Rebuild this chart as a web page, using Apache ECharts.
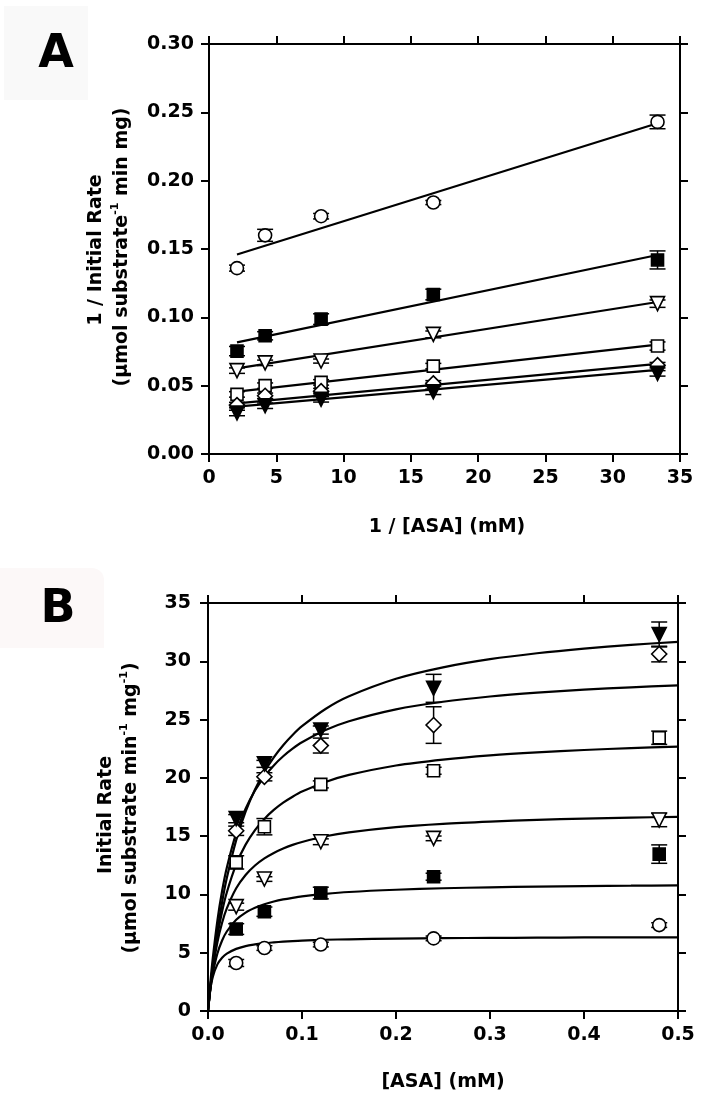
<!DOCTYPE html>
<html>
<head>
<meta charset="utf-8">
<script src="https://cdn.jsdelivr.net/npm/echarts@6/dist/echarts.min.js"></script>
<style>
html,body{margin:0;padding:0;background:#fff;}
#chart{width:702px;height:1103px;}
</style>
</head>
<body>
<div id="chart"></div>
<script>
// ---------- DATA ----------
// Panel A: Lineweaver-Burk, x = 1/[ASA] (mM^-1)
const invAsa = [2.08, 4.17, 8.33, 16.67, 33.33];
const aCircle   = [0.136, 0.160, 0.174, 0.184, 0.243];
const aCircleErr= [0.0022, 0.0044, 0.002, 0.0015, 0.005];
const aFSquare  = [0.0753, 0.0865, 0.0987, 0.1167, 0.142];
const aFSquareErr=[0.0034, 0.003, 0.0039, 0.0039, 0.0066];
const aOTri     = [0.061, 0.0667, 0.068, 0.0875, 0.110];
const aOTriErr  = [0.002, 0.002, 0.0015, 0.0025, 0.0027];
const aOSquare  = [0.0436, 0.050, 0.0524, 0.0643, 0.079];
const aOSquareErr=[0.002, 0.002, 0.002, 0.002, 0.003];
const aDiamond  = [0.0358, 0.0426, 0.046, 0.0517, 0.065];
const aDiamondErr=[0.002, 0.002, 0.002, 0.002, 0.002];
const aFTri     = [0.030, 0.0353, 0.040, 0.0455, 0.059];
const aFTriErr  = [0.002, 0.002, 0.002, 0.002, 0.002];
// fitted straight lines (endpoints)
const aLineX = [2.08, 33.33];
const aLineCircle  = [0.146, 0.242];
const aLineFSquare = [0.0817, 0.1456];
const aLineOTri    = [0.0627, 0.1112];
const aLineOSquare = [0.0456, 0.0800];
const aLineDiamond = [0.0371, 0.0660];
const aLineFTri    = [0.0346, 0.0615];

// Panel B: Michaelis-Menten, x = [ASA] (mM)
const asa = [0.03, 0.06, 0.12, 0.24, 0.48];
const bCircle   = [4.12, 5.40, 5.70, 6.23, 7.37];
const bCircleErr= [0.3, 0.2, 0.2, 0.2, 0.2];
const bFSquare  = [7.03, 8.52, 10.12, 11.52, 13.46];
const bFSquareErr=[0.46, 0.4, 0.5, 0.3, 0.79];
const bOTri     = [8.95, 11.32, 14.52, 14.81, 16.38];
const bOTriErr  = [0.3, 0.2, 0.25, 0.2, 0.57];
const bOSquare  = [12.75, 15.81, 19.44, 20.61, 23.44];
const bOSquareErr=[0.57, 0.7, 0.3, 0.3, 0.57];
const bDiamond  = [15.46, 20.09, 22.77, 24.53, 30.62];
const bDiamondErr=[0.4, 0.35, 0.64, 1.57, 0.67];
const bFTri     = [16.5, 21.2, 24.1, 27.68, 32.3];
const bFTriErr  = [0.35, 0.3, 0.35, 1.2, 1.07];
// fitted curves read along x
const curveX = [0, 0.0025, 0.005, 0.01, 0.015, 0.02, 0.03, 0.04, 0.05, 0.06, 0.07, 0.08, 0.09, 0.1, 0.125, 0.15, 0.2, 0.25, 0.3, 0.35, 0.4, 0.45, 0.5];
const cFTri    = [0, 2.01, 3.80, 6.84, 9.33, 11.40, 14.66, 17.10, 19.00, 20.52, 21.76, 22.80, 23.68, 24.43, 25.91, 27.00, 28.50, 29.48, 30.18, 30.69, 31.09, 31.41, 31.67];
const cDiamond = [0, 2.42, 4.47, 7.76, 10.29, 12.29, 15.26, 17.35, 18.91, 20.11, 21.07, 21.85, 22.50, 23.05, 24.10, 24.86, 25.88, 26.53, 26.98, 27.31, 27.57, 27.77, 27.94];
const cOSquare = [0, 2.03, 3.73, 6.46, 8.54, 10.17, 12.58, 14.27, 15.52, 16.48, 17.25, 17.87, 18.38, 18.82, 19.65, 20.25, 21.06, 21.57, 21.93, 22.19, 22.39, 22.55, 22.68];
const cOTri    = [0, 1.98, 3.56, 5.90, 7.57, 8.80, 10.53, 11.67, 12.48, 13.09, 13.56, 13.94, 14.25, 14.50, 14.99, 15.33, 15.78, 16.06, 16.25, 16.40, 16.50, 16.59, 16.66];
const cFSquare = [0, 1.85, 3.18, 4.93, 6.05, 6.82, 7.82, 8.44, 8.85, 9.16, 9.39, 9.57, 9.71, 9.83, 10.05, 10.21, 10.40, 10.53, 10.61, 10.67, 10.72, 10.75, 10.78];
const cCircle  = [0, 1.88, 2.91, 4.00, 4.57, 4.92, 5.33, 5.57, 5.71, 5.82, 5.89, 5.95, 6.00, 6.04, 6.11, 6.15, 6.21, 6.25, 6.27, 6.29, 6.31, 6.32, 6.32];

// ---------- STYLE / BUILD ----------
const FONT = 'DejaVu Sans';
const TXT = '#000';
const markers = [
  {key:'circle',  symbol:'circle',   size:13, filled:false, rot:0,
   a:aCircle, aErr:aCircleErr, aLine:aLineCircle, b:bCircle, bErr:bCircleErr, curve:cCircle},
  {key:'fsquare', symbol:'rect',     size:12, filled:true,  rot:0,
   a:aFSquare, aErr:aFSquareErr, aLine:aLineFSquare, b:bFSquare, bErr:bFSquareErr, curve:cFSquare},
  {key:'otri',    symbol:'triangle', size:14, filled:false, rot:180,
   a:aOTri, aErr:aOTriErr, aLine:aLineOTri, b:bOTri, bErr:bOTriErr, curve:cOTri},
  {key:'osquare', symbol:'rect',     size:12, filled:false, rot:0,
   a:aOSquare, aErr:aOSquareErr, aLine:aLineOSquare, b:bOSquare, bErr:bOSquareErr, curve:cOSquare},
  {key:'diamond', symbol:'diamond',  size:15, filled:false, rot:0,
   a:aDiamond, aErr:aDiamondErr, aLine:aLineDiamond, b:bDiamond, bErr:bDiamondErr, curve:cDiamond},
  {key:'ftri',    symbol:'triangle', size:14, filled:true,  rot:180,
   a:aFTri, aErr:aFTriErr, aLine:aLineFTri, b:bFTri, bErr:bFTriErr, curve:cFTri}
];

function errRender(params, api) {
  const x = api.value(0), y = api.value(1), e = api.value(2);
  const t = api.coord([x, y + e]), b = api.coord([x, y - e]);
  const hw = 8;
  const st = {stroke:'#000', lineWidth:1.5};
  return {type:'group', children:[
    {type:'line', shape:{x1:t[0], y1:t[1], x2:b[0], y2:b[1]}, style:st},
    {type:'line', shape:{x1:t[0]-hw, y1:t[1], x2:t[0]+hw, y2:t[1]}, style:st},
    {type:'line', shape:{x1:b[0]-hw, y1:b[1], x2:b[0]+hw, y2:b[1]}, style:st}
  ]};
}

const series = [];
markers.forEach(m => {
  const iStyle = {color: m.filled ? '#000' : '#fff', borderColor:'#000', borderWidth:1.6, opacity:1};
  // Panel A
  series.push({type:'line', xAxisIndex:0, yAxisIndex:0, showSymbol:false, silent:true, z:2,
    lineStyle:{color:'#000', width:2.2}, data: aLineX.map((x,i)=>[x, m.aLine[i]])});
  series.push({type:'custom', xAxisIndex:0, yAxisIndex:0, z:3, renderItem:errRender,
    encode:{x:0, y:1}, data: invAsa.map((x,i)=>[x, m.a[i], m.aErr[i]])});
  series.push({type:'scatter', xAxisIndex:0, yAxisIndex:0, z:4, symbol:m.symbol, symbolSize:m.size, symbolRotate:m.rot,
    itemStyle:iStyle, emphasis:{disabled:true},
    data: invAsa.map((x,i)=>[x, m.a[i]])});
  // Panel B
  series.push({type:'line', xAxisIndex:2, yAxisIndex:2, showSymbol:false, silent:true, z:2, smooth:0.3,
    lineStyle:{color:'#000', width:2.2}, data: curveX.map((x,i)=>[x, m.curve[i]])});
  series.push({type:'custom', xAxisIndex:2, yAxisIndex:2, z:3, renderItem:errRender,
    encode:{x:0, y:1}, data: asa.map((x,i)=>[x, m.b[i], m.bErr[i]])});
  series.push({type:'scatter', xAxisIndex:2, yAxisIndex:2, z:4, symbol:m.symbol, symbolSize:m.size, symbolRotate:m.rot,
    itemStyle:iStyle, emphasis:{disabled:true},
    data: asa.map((x,i)=>[x, m.b[i]])});
});

const axLine = {show:true, onZero:false, lineStyle:{color:'#000', width:2}};
const axTick = {show:true, length:8, inside:false, lineStyle:{color:'#000', width:2}};
const lab = (fmt, margin) => ({show:true, color:TXT, fontFamily:FONT, fontWeight:'bold', fontSize:19, margin:margin, formatter:fmt});
const noLab = {show:false};

const option = {
  animation:false,
  backgroundColor:'#fff',
  grid:[
    {left:209, top:44, width:471, height:410},
    {left:208, top:603, width:470, height:408}
  ],
  xAxis:[
    {gridIndex:0, type:'value', min:0, max:35, interval:5, position:'bottom', axisLine:axLine, axisTick:axTick, splitLine:{show:false}, axisLabel:lab(v=>String(v), 15)},
    {gridIndex:0, type:'value', min:0, max:35, interval:5, position:'top', axisLine:axLine, axisTick:axTick, splitLine:{show:false}, axisLabel:noLab},
    {gridIndex:1, type:'value', min:0, max:0.5, interval:0.1, position:'bottom', axisLine:axLine, axisTick:axTick, splitLine:{show:false}, axisLabel:lab(v=>v.toFixed(1), 15)},
    {gridIndex:1, type:'value', min:0, max:0.5, interval:0.1, position:'top', axisLine:axLine, axisTick:axTick, splitLine:{show:false}, axisLabel:noLab}
  ],
  yAxis:[
    {gridIndex:0, type:'value', min:0, max:0.3, interval:0.05, position:'left', axisLine:axLine, axisTick:axTick, splitLine:{show:false}, axisLabel:lab(v=>v.toFixed(2), 15)},
    {gridIndex:0, type:'value', min:0, max:0.3, interval:0.05, position:'right', axisLine:axLine, axisTick:axTick, splitLine:{show:false}, axisLabel:noLab},
    {gridIndex:1, type:'value', min:0, max:35, interval:5, position:'left', axisLine:axLine, axisTick:axTick, splitLine:{show:false}, axisLabel:lab(v=>String(v), 17)},
    {gridIndex:1, type:'value', min:0, max:35, interval:5, position:'right', axisLine:axLine, axisTick:axTick, splitLine:{show:false}, axisLabel:noLab}
  ],
  graphic:[
    {type:'rect', shape:{x:4, y:6, width:84, height:94}, style:{fill:'#f9f9f9'}, z:-10, silent:true},
    {type:'rect', shape:{x:0, y:568, width:104, height:80, r:[0,12,0,0]}, style:{fill:'#fcf8f8'}, z:-10, silent:true},
    {type:'text', x:56, y:55, style:{text:'A', fontFamily:FONT, fontWeight:'bold', fontSize:46, fill:'#000', align:'center', verticalAlign:'middle'}},
    {type:'text', x:58, y:610, style:{text:'B', fontFamily:FONT, fontWeight:'bold', fontSize:46, fill:'#000', align:'center', verticalAlign:'middle'}},
    {type:'text', x:447, y:527, style:{text:'1 / [ASA] (mM)', fontFamily:FONT, fontWeight:'bold', fontSize:19, fill:TXT, align:'center', verticalAlign:'middle'}},
    {type:'text', x:443, y:1082, style:{text:'[ASA] (mM)', fontFamily:FONT, fontWeight:'bold', fontSize:19, fill:TXT, align:'center', verticalAlign:'middle'}},
    {type:'text', x:96, y:250, rotation:Math.PI/2, style:{text:'1 / Initial Rate', fontFamily:FONT, fontWeight:'bold', fontSize:19, fill:TXT, align:'center', verticalAlign:'middle'}},
    {type:'text', x:122, y:247, rotation:Math.PI/2, style:{
      text:'{t|(μmol substrate}{s|-1}{t| min mg)}', align:'center', verticalAlign:'middle',
      rich:{t:{fontFamily:FONT, fontWeight:'bold', fontSize:19, fill:TXT, lineHeight:24},
            s:{fontFamily:FONT, fontWeight:'bold', fontSize:11, fill:TXT, lineHeight:24, verticalAlign:'top'}}}},
    {type:'text', x:106, y:815, rotation:Math.PI/2, style:{text:'Initial Rate', fontFamily:FONT, fontWeight:'bold', fontSize:19, fill:TXT, align:'center', verticalAlign:'middle'}},
    {type:'text', x:131, y:808, rotation:Math.PI/2, style:{
      text:'{t|(μmol substrate min}{s|-1}{t| mg}{s|-1}{t|)}', align:'center', verticalAlign:'middle',
      rich:{t:{fontFamily:FONT, fontWeight:'bold', fontSize:19, fill:TXT, lineHeight:24},
            s:{fontFamily:FONT, fontWeight:'bold', fontSize:11, fill:TXT, lineHeight:24, verticalAlign:'top'}}}}
  ],
  series: series
};

const chart = echarts.init(document.getElementById('chart'), null, {renderer:'canvas'});
chart.setOption(option);
</script>
</body>
</html>
